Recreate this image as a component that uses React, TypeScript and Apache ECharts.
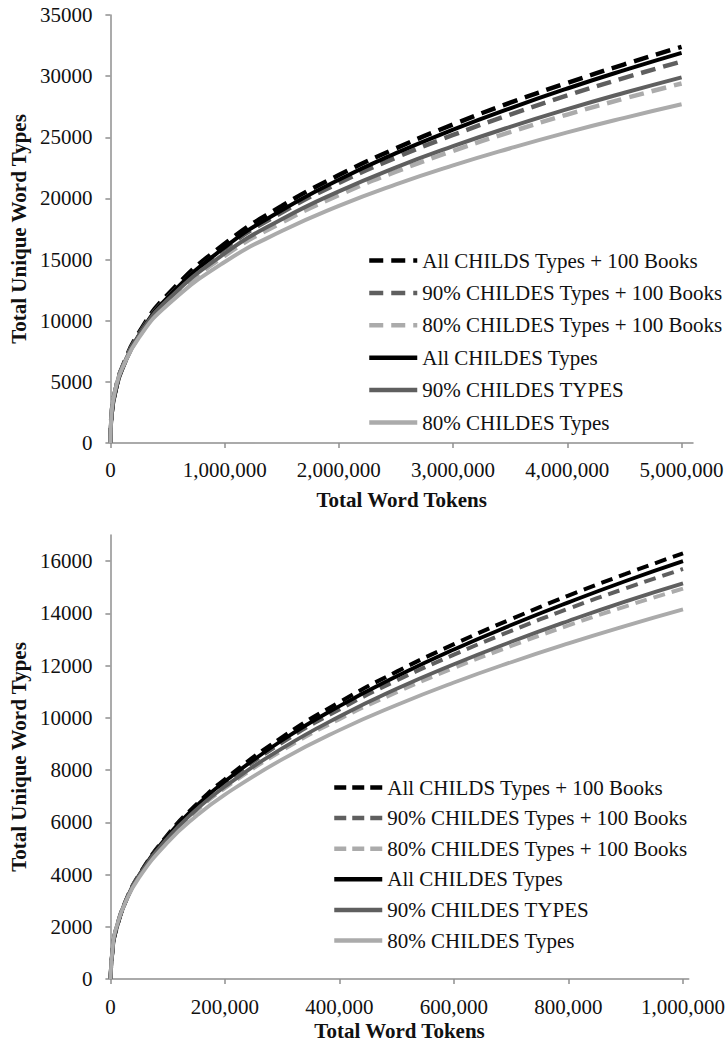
import React, { useEffect, useRef } from "react";
import * as echarts from "echarts";

// ---------- Data ----------
const seriesNames = [
  "All CHILDS Types + 100 Books",
  "90% CHILDES Types + 100 Books",
  "80% CHILDES Types + 100 Books",
  "All CHILDES Types",
  "90% CHILDES TYPES",
  "80% CHILDES Types",
];

// Top chart: up to 5,000,000 tokens
const topTokens = [0, 10000, 50000, 100000, 250000, 500000, 1000000, 1500000, 2000000, 2500000, 3000000, 3500000, 4000000, 4500000, 5000000];
const topAllBooks = [0, 2280, 4540, 6100, 9020, 12120, 16300, 19380, 21910, 24100, 26050, 27830, 29450, 30970, 32400];
const top90Books = [0, 2310, 4530, 6060, 8890, 11890, 15900, 18840, 21260, 23340, 25190, 26860, 28420, 29860, 31200];
const top80Books = [0, 2360, 4530, 6010, 8710, 11540, 15300, 18030, 20270, 22190, 23890, 25430, 26860, 28170, 29400];
const topAll = [0, 2220, 4420, 5960, 8820, 11880, 16000, 19030, 21530, 23700, 25620, 27370, 28990, 30490, 31900];
const top90 = [0, 2370, 4570, 6060, 8810, 11690, 15500, 18300, 20580, 22540, 24270, 25850, 27300, 28640, 29900];
const top80 = [0, 2460, 4610, 6030, 8620, 11290, 14800, 17330, 19390, 21150, 22700, 24100, 25400, 26590, 27700];

// Bottom chart: up to 1,000,000 tokens
const bottomTokens = [0, 5000, 10000, 25000, 50000, 100000, 150000, 200000, 300000, 400000, 500000, 600000, 700000, 800000, 900000, 1000000];
const bottomAllBooks = [0, 1350, 1870, 2880, 3990, 5520, 6680, 7650, 9260, 10600, 11770, 12820, 13780, 14680, 15510, 16300];
const bottom90Books = [0, 1390, 1900, 2900, 3980, 5470, 6590, 7510, 9050, 10320, 11430, 12420, 13330, 14180, 14960, 15700];
const bottom80Books = [0, 1410, 1930, 2890, 3940, 5360, 6430, 7310, 8750, 9950, 10980, 11910, 12750, 13540, 14270, 14950];
const bottomAll = [0, 1360, 1880, 2880, 3970, 5480, 6620, 7570, 9140, 10450, 11590, 12620, 13550, 14420, 15240, 16000];
const bottom90 = [0, 1410, 1930, 2900, 3960, 5400, 6480, 7370, 8830, 10050, 11110, 12050, 12910, 13710, 14460, 15150];
const bottom80 = [0, 1440, 1940, 2870, 3880, 5230, 6240, 7060, 8410, 9530, 10490, 11350, 12130, 12850, 13520, 14150];

const topXTicks = [0, 1000000, 2000000, 3000000, 4000000, 5000000];
const bottomXTicks = [0, 200000, 400000, 600000, 800000, 1000000];
const bottomYTicks = [0, 2000, 4000, 6000, 8000, 10000, 12000, 14000, 16000];

const xTitle = "Total Word Tokens";
const yTitle = "Total Unique Word Types";

// ---------- Styles ----------
const FONT = "'Liberation Serif', 'Times New Roman', Times, serif";
const colors = ["#000000", "#5f5f5f", "#ababab", "#000000", "#5f5f5f", "#ababab"];
const dashed = [true, true, true, false, false, false];

const zip = (xs: number[], ys: number[]) => xs.map((x, i) => [x, ys[i]]);

export default function App() {
  const ref = useRef<HTMLDivElement>(null);

  useEffect(() => {
    if (!ref.current) return;
    const chart = echarts.init(ref.current, undefined, { renderer: "svg" });

    const topSets = [topAllBooks, top90Books, top80Books, topAll, top90, top80];
    const bottomSets = [bottomAllBooks, bottom90Books, bottom80Books, bottomAll, bottom90, bottom80];

    const axisLine = { show: true, lineStyle: { color: "#8f8f8f", width: 1.5 } };
    const tickStyle = { color: "#8f8f8f", width: 1.5 };
    const labelStyle = { fontSize: 21, color: "#111", fontFamily: FONT };
    const nameStyle = { fontSize: 21, fontWeight: "bold" as const, color: "#111", fontFamily: FONT };
    const fmtComma = (v: number) => v.toLocaleString("en-US");
    const fmtPlain = (v: number) => String(v);

    const mkSeries = (sets: number[][], xs: number[], grid: number, dash: number[], widthD: number, widthS: number) =>
      sets.map((ys, i) => ({
        type: "line",
        name: seriesNames[i],
        xAxisIndex: grid,
        yAxisIndex: grid,
        data: zip(xs, ys),
        smooth: true,
        symbol: "none",
        showSymbol: false,
        lineStyle: {
          color: colors[i],
          width: dashed[i] ? widthD : widthS,
          type: dashed[i] ? dash : "solid",
          cap: "butt",
        },
        itemStyle: { color: colors[i] },
        z: 2 + i,
      }));

    const legendData = (dash: number[]) =>
      seriesNames.map((n, i) => ({
        name: n,
        itemStyle: { opacity: 0 },
        lineStyle: { type: dashed[i] ? dash : "solid", color: colors[i], width: 4.5, cap: "butt" },
      }));

    const legendCommon = {
      orient: "vertical",
      itemWidth: 48,
      itemHeight: 14,
      selectedMode: false,
      itemStyle: { opacity: 0 },
      textStyle: { fontSize: 21, lineHeight: 21, color: "#111", fontFamily: FONT },
    };

    const option = {
      animation: false,
      backgroundColor: "#ffffff",
      textStyle: { fontFamily: FONT },
      grid: [
        { left: 109, top: 15, width: 584, height: 428 },
        { left: 109, top: 535, width: 584, height: 444 },
      ],
      xAxis: [
        {
          gridIndex: 0,
          type: "value",
          min: 0,
          max: 5100000,
          axisLine,
          axisTick: { show: true, length: 5, customValues: topXTicks, lineStyle: tickStyle },
          axisLabel: { ...labelStyle, margin: 16, customValues: topXTicks, formatter: fmtComma },
          splitLine: { show: false },
          name: xTitle,
          nameLocation: "middle",
          nameGap: 46,
          nameTextStyle: nameStyle,
        },
        {
          gridIndex: 1,
          type: "value",
          min: 0,
          max: 1010000,
          axisLine,
          axisTick: { show: true, length: 5, customValues: bottomXTicks, lineStyle: tickStyle },
          axisLabel: { ...labelStyle, margin: 17, customValues: bottomXTicks, formatter: fmtComma },
          splitLine: { show: false },
          name: xTitle,
          nameLocation: "middle",
          nameGap: 41,
          nameTextStyle: nameStyle,
        },
      ],
      yAxis: [
        {
          gridIndex: 0,
          type: "value",
          min: 0,
          max: 35000,
          interval: 5000,
          axisLine,
          axisTick: { show: true, length: 5, lineStyle: tickStyle },
          axisLabel: { ...labelStyle, margin: 18, formatter: fmtPlain },
          splitLine: { show: false },
          name: yTitle,
          nameLocation: "middle",
          nameGap: 75,
          nameTextStyle: nameStyle,
        },
        {
          gridIndex: 1,
          type: "value",
          min: 0,
          max: 17000,
          axisLine,
          axisTick: { show: true, length: 5, customValues: bottomYTicks, lineStyle: tickStyle },
          axisLabel: { ...labelStyle, margin: 18, customValues: bottomYTicks, formatter: fmtPlain },
          splitLine: { show: false },
          name: yTitle,
          nameLocation: "middle",
          nameGap: 75,
          nameTextStyle: nameStyle,
        },
      ],
      legend: [
        { ...legendCommon, left: 362, top: 245, itemGap: 11.4, data: legendData([14, 8]) },
        { ...legendCommon, left: 327, top: 772, itemGap: 9.6, data: legendData([12, 6]) },
      ],
      series: [
        ...mkSeries(topSets, topTokens, 0, [15, 8], 4.5, 4),
        ...mkSeries(bottomSets, bottomTokens, 1, [12, 7], 4, 3.8),
      ],
    };

    chart.setOption(option as any);
    return () => chart.dispose();
  }, []);

  return (
    <div
      ref={ref}
      style={{ position: "absolute", left: 0, top: 0, width: 728, height: 1046, background: "#fff" }}
    />
  );
}
